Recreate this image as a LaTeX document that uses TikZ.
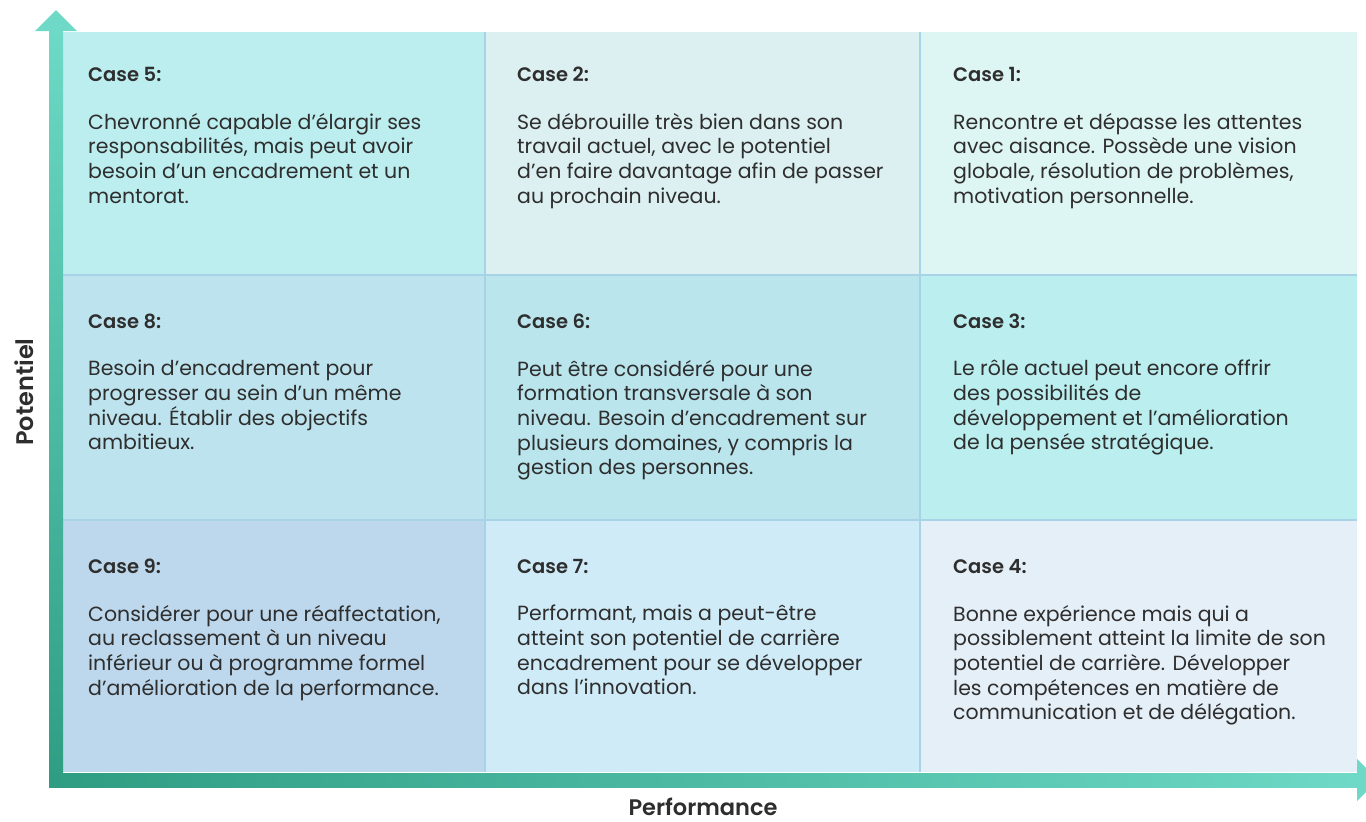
\documentclass[tikz,border=0pt]{standalone}
\usepackage{fontspec}
\setmainfont{Poppins}[BoldFont={Poppins SemiBold}]
\usetikzlibrary{positioning}
\definecolor{axisdark}{HTML}{2E9D82}
\definecolor{axislight}{HTML}{6DD9C6}
\definecolor{gridline}{HTML}{A8D3E6}
\definecolor{inktext}{HTML}{2E2E2E}
\definecolor{cellfive}{HTML}{BCEEF0}
\definecolor{celltwo}{HTML}{DCF0F2}
\definecolor{cellone}{HTML}{DEF6F3}
\definecolor{celleight}{HTML}{BDE4EE}
\definecolor{cellsix}{HTML}{BAE5ED}
\definecolor{cellthree}{HTML}{BBEEEF}
\definecolor{cellnine}{HTML}{BDD8EC}
\definecolor{cellseven}{HTML}{CFEBF7}
\definecolor{cellfour}{HTML}{E5EFF8}

\begin{document}
\begin{tikzpicture}[x=1pt,y=-1pt,
every node/.style={inner sep=0pt,text=inktext},
casetitle/.style={anchor=base west,font=\fontsize{19.5}{24}\selectfont\bfseries},
casetext/.style={anchor=north west,align=left,font=\fontsize{20.5}{24.6}\selectfont,
  execute at begin node={\rule{0pt}{21pt}}},
axislabel/.style={font=\fontsize{22.5}{26}\selectfont\bfseries},
]
\clip (0,0) rectangle (1366,822);

\fill[cellfive] (63,32) rectangle (485,275);
\fill[celltwo] (485,32) rectangle (920,275);
\fill[cellone] (920,32) rectangle (1357,275);
\fill[celleight] (63,275) rectangle (485,520);
\fill[cellsix] (485,275) rectangle (920,520);
\fill[cellthree] (920,275) rectangle (1357,520);
\fill[cellnine] (63,520) rectangle (485,772);
\fill[cellseven] (485,520) rectangle (920,772);
\fill[cellfour] (920,520) rectangle (1357,772);
\draw[gridline,line width=1.5pt] (485,32) -- (485,772) (920,32) -- (920,772)
  (63,275) -- (1357,275) (63,520) -- (1357,520);

\coordinate (origin) at (49,787);
\coordinate (ytip) at (56,10);
\coordinate (xtip) at (1378,780);
\shade[bottom color=axisdark,top color=axislight] (origin) rectangle (63,31);
\fill[axislight] (35,31) -- (77,31) -- (ytip) -- cycle;
\shade[left color=axisdark,right color=axislight] (origin) rectangle (1357,773);
\fill[axislight] (1357,759) -- (1357,801) -- (xtip) -- cycle;

\node[axislabel,rotate=90,anchor=base,font=\fontsize{24}{28}\selectfont\bfseries] (potentiel) at (33,392) {Potentiel};
\node[axislabel,anchor=base] (performance) at (703,815) {Performance};

\node[casetitle] (t5) at (88,81) {Case 5:};
\node[casetext] (b5) at (88,113) {Chevronné capable d'élargir ses\\responsabilités, mais peut avoir\\besoin d'un encadrement et un\\mentorat.};
\node[casetitle] (t2) at (517,81) {Case 2:};
\node[casetext] (b2) at (517,113) {Se débrouille très bien dans son\\travail actuel, avec le potentiel\\d'en faire davantage afin de passer\\au prochain niveau.};
\node[casetitle] (t1) at (953,81) {Case 1:};
\node[casetext] (b1) at (953,113) {Rencontre et dépasse les attentes\\avec aisance. Possède une vision\\globale, résolution de problèmes,\\motivation personnelle.};

\node[casetitle] (t8) at (88,328) {Case 8:};
\node[casetext] (b8) at (88,360) {Besoin d'encadrement pour\\progresser au sein d'un même\\niveau. Établir des objectifs\\ambitieux.};
\node[casetitle] (t6) at (517,328) {Case 6:};
\node[casetext] (b6) at (517,360) {Peut être considéré pour une\\formation transversale à son\\niveau. Besoin d'encadrement sur\\plusieurs domaines, y compris la\\gestion des personnes.};
\node[casetitle] (t3) at (953,328) {Case 3:};
\node[casetext] (b3) at (953,360) {Le rôle actuel peut encore offrir\\des possibilités de\\développement et l'amélioration\\de la pensée stratégique.};

\node[casetitle] (t9) at (88,573) {Case 9:};
\node[casetext] (b9) at (88,605) {Considérer pour une réaffectation,\\au reclassement à un niveau\\inférieur ou à programme formel\\d'amélioration de la performance.};
\node[casetitle] (t7) at (517,573) {Case 7:};
\node[casetext] (b7) at (517,605) {Performant, mais a peut-être\\atteint son potentiel de carrière\\encadrement pour se développer\\dans l'innovation.};
\node[casetitle] (t4) at (953,573) {Case 4:};
\node[casetext] (b4) at (953,605) {Bonne expérience mais qui a\\possiblement atteint la limite de son\\potentiel de carrière. Développer\\les compétences en matière de\\communication et de délégation.};
\end{tikzpicture}
\end{document}
